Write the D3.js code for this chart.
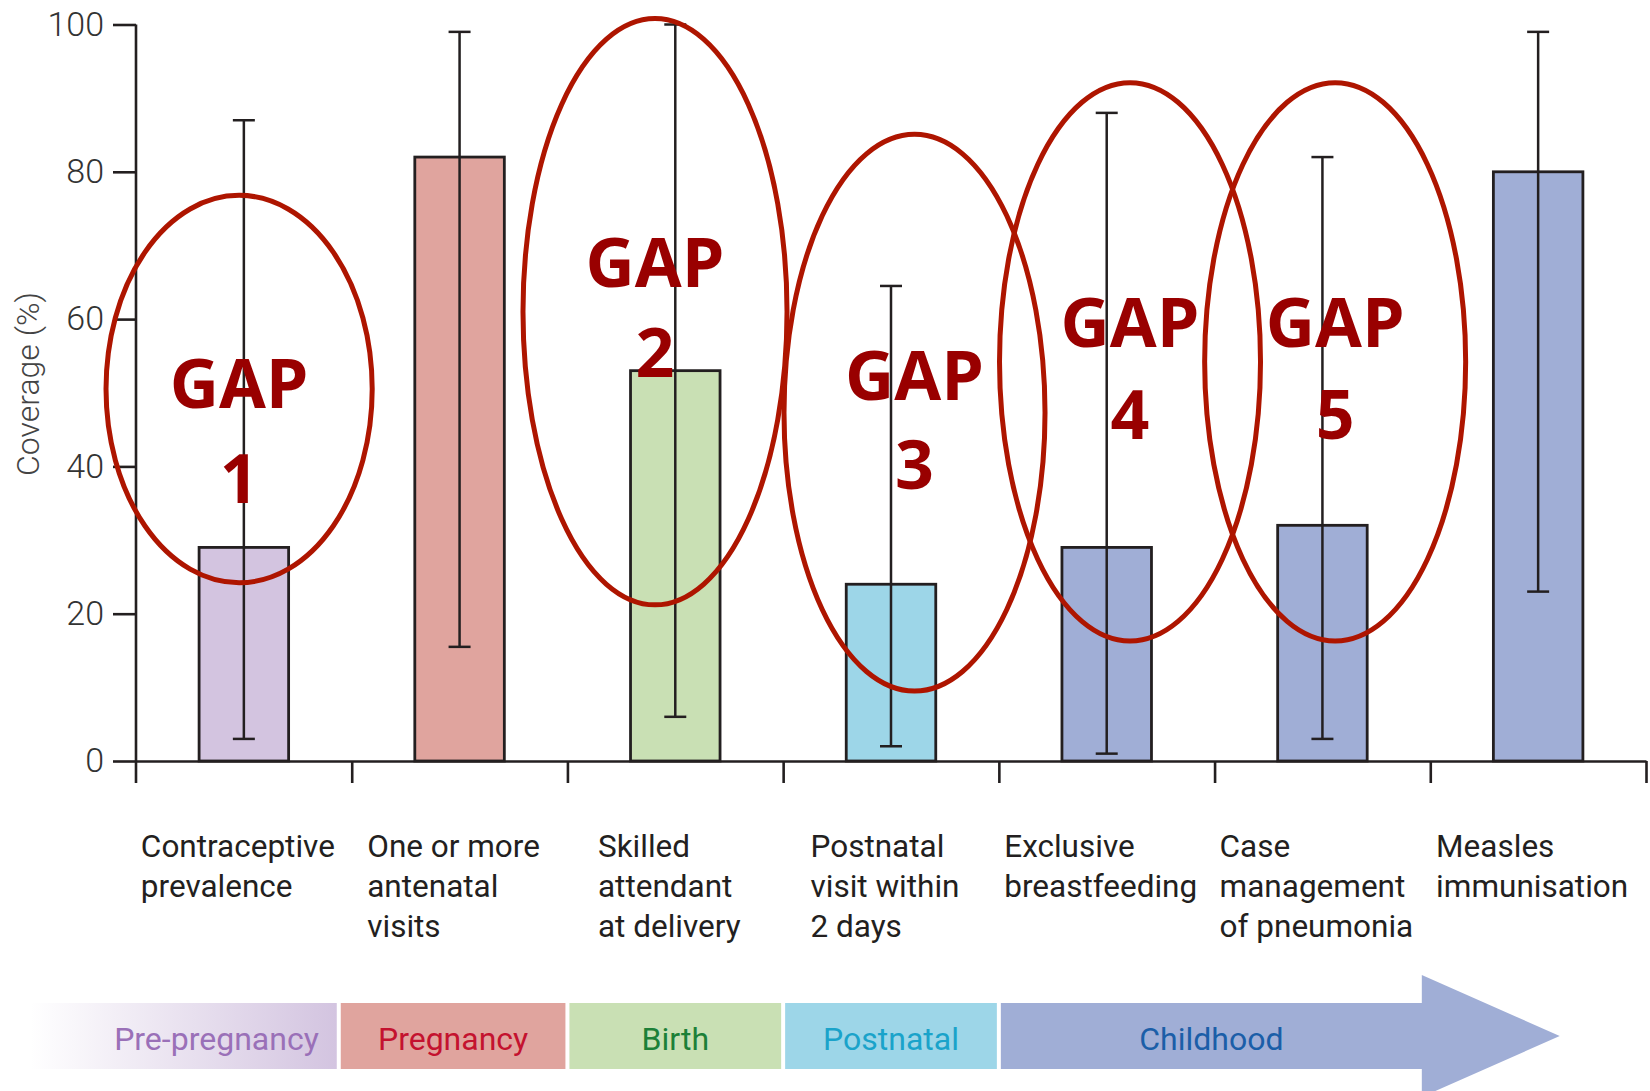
<!DOCTYPE html>
<html>
<head>
<meta charset="utf-8">
<script src="https://cdn.jsdelivr.net/npm/d3@7"></script>
<style>
  body { margin: 0; background: #fff; }
</style>
</head>
<body>
<svg id="chart" width="1650" height="1091"></svg>
<script>
// indicators along the continuum of care
const categories = ['contraceptive', 'antenatal', 'skilled', 'postnatal', 'breastfeeding', 'pneumonia', 'measles'];
const categoryLines = [
  ['Contraceptive', 'prevalence'],
  ['One or more', 'antenatal', 'visits'],
  ['Skilled', 'attendant', 'at delivery'],
  ['Postnatal', 'visit within', '2 days'],
  ['Exclusive', 'breastfeeding'],
  ['Case', 'management', 'of pneumonia'],
  ['Measles', 'immunisation']
];
const coverage = [29, 82, 53, 24, 29, 32, 80];
const rangeLow = [3, 15.5, 6, 2, 1, 3, 23];
const rangeHigh = [87, 99, 100, 64.5, 88, 82, 99];
const barColors = ['#d3c4e0', '#e0a49e', '#c9e0b4', '#9dd6e8', '#a0aed6', '#a0aed6', '#a0aed6'];
const yTicks = [0, 20, 40, 60, 80, 100];

// stages band under the chart (in category units)
const stageNames = ['Pre-pregnancy', 'Pregnancy', 'Birth', 'Postnatal', 'Childhood'];
const stageStart = [-0.5, 0.94, 2, 3, 4];
const stageEnd = [0.94, 2, 3, 4, 5.97];
const stageFill = ['#d3c4e0', '#e0a49e', '#c9e0b4', '#9dd6e8', '#a0aed6'];
const stageText = ['#9a70b8', '#c4122f', '#1c8038', '#1aa3ca', '#1b5ea8'];
const arrowTip = 6.6;

// gap annotations (x in category units, y in coverage %)
const gapNames = ['1', '2', '3', '4', '5'];
const gapX = [0.478, 2.406, 3.609, 4.608, 5.559];
const gapY = [50.5, 61, 47.3, 54.2, 54.2];
const gapRx = [0.617, 0.612, 0.605, 0.605, 0.605];
const gapRy = [26.3, 39.8, 37.8, 37.9, 37.9];
const gapWordY = [47.9, 64.4, 49, 56.2, 56.2];
const gapNumY = [35, 52.1, 36.9, 43.7, 43.7];

const svg = d3.select('#chart');
const ink = '#231f20';
const left = 136, right = 1646;

const x = d3.scaleBand().domain(categories).range([left, right]).padding(0);
const pos = d3.scaleLinear().domain([0, categories.length]).range([left, right]);
const y = d3.scaleLinear().domain([0, 100]).range([761, 24.5]);
const barW = x.bandwidth() * 0.415;

// y axis
const yAxis = svg.append('g')
  .attr('transform', `translate(${left},0)`)
  .call(d3.axisLeft(y).tickValues(yTicks).tickSize(23).tickSizeOuter(0).tickPadding(9));
yAxis.select('.domain').remove();
yAxis.selectAll('line').attr('stroke', ink).attr('stroke-width', 2.6);
yAxis.selectAll('text')
  .attr('font-family', 'Roboto, sans-serif')
  .attr('font-weight', 300)
  .attr('font-size', 34)
  .attr('fill', '#333');
yAxis.append('line')
  .attr('x1', 0).attr('x2', 0)
  .attr('y1', y(100)).attr('y2', y(0) + 22)
  .attr('stroke', ink).attr('stroke-width', 2.6);

// x axis with ticks between categories
const xAxis = svg.append('g')
  .attr('transform', `translate(0,${y(0)})`)
  .call(d3.axisBottom(pos).tickValues(d3.range(1, categories.length + 1)).tickSize(22).tickSizeOuter(0).tickFormat(''));
xAxis.select('.domain').attr('stroke', ink).attr('stroke-width', 2.6);
xAxis.selectAll('line').attr('stroke', ink).attr('stroke-width', 2.6);

svg.append('text')
  .attr('transform', `translate(39,${384}) rotate(-90)`)
  .attr('text-anchor', 'middle')
  .attr('font-family', 'Roboto, sans-serif')
  .attr('font-weight', 300)
  .attr('font-size', 32)
  .attr('fill', '#444')
  .text('Coverage (%)');

// bars
svg.append('g').selectAll('rect')
  .data(categories)
  .join('rect')
  .attr('x', (d) => x(d) + (x.bandwidth() - barW) / 2)
  .attr('y', (d, i) => y(coverage[i]))
  .attr('width', barW)
  .attr('height', (d, i) => y(0) - y(coverage[i]))
  .attr('fill', (d, i) => barColors[i])
  .attr('stroke', ink)
  .attr('stroke-width', 2.8);

// range bars
const err = svg.append('g').attr('stroke', ink).attr('stroke-width', 2.5);
categories.forEach((c, i) => {
  const cx = x(c) + x.bandwidth() / 2;
  err.append('line').attr('x1', cx).attr('x2', cx).attr('y1', y(rangeLow[i])).attr('y2', y(rangeHigh[i]));
  err.append('line').attr('x1', cx - 11).attr('x2', cx + 11).attr('y1', y(rangeLow[i])).attr('y2', y(rangeLow[i]));
  err.append('line').attr('x1', cx - 11).attr('x2', cx + 11).attr('y1', y(rangeHigh[i])).attr('y2', y(rangeHigh[i]));
});

// category labels, left aligned block centred under each bar
const labelG = svg.append('g')
  .attr('font-family', 'Roboto, sans-serif')
  .attr('font-size', 31.5)
  .attr('fill', ink);
categories.forEach((c, i) => {
  const t = labelG.append('text');
  categoryLines[i].forEach((line, k) => {
    t.append('tspan').attr('x', 0).attr('y', 857 + k * 40).text(line);
  });
  let w = 0;
  t.selectAll('tspan').each(function () { w = Math.max(w, this.getComputedTextLength()); });
  t.attr('transform', `translate(${x(c) + x.bandwidth() / 2 - w / 2 - 6},0)`);
});

// stages strip
const defs = svg.append('defs');
const grad = defs.append('linearGradient').attr('id', 'preGrad');
grad.append('stop').attr('offset', '0%').attr('stop-color', stageFill[0]).attr('stop-opacity', 0);
grad.append('stop').attr('offset', '100%').attr('stop-color', stageFill[0]).attr('stop-opacity', 1);

const stripTop = 1003, stripH = 66, headH = 61;
const strip = svg.append('g');
stageNames.forEach((name, i) => {
  const x0 = pos(stageStart[i]) + 2, x1 = pos(stageEnd[i]) - 2;
  const last = i === stageNames.length - 1;
  if (last) {
    const mid = stripTop + stripH / 2;
    const p = d3.path();
    p.moveTo(x0, stripTop);
    p.lineTo(x1, stripTop);
    p.lineTo(x1, mid - headH);
    p.lineTo(pos(arrowTip), mid);
    p.lineTo(x1, mid + headH);
    p.lineTo(x1, stripTop + stripH);
    p.lineTo(x0, stripTop + stripH);
    p.closePath();
    strip.append('path').attr('d', p.toString()).attr('fill', stageFill[i]);
  } else {
    strip.append('rect')
      .attr('x', x0).attr('y', stripTop)
      .attr('width', x1 - x0).attr('height', stripH)
      .attr('fill', i === 0 ? 'url(#preGrad)' : stageFill[i]);
  }
  strip.append('text')
    .attr('x', i === 0 ? x1 - 18 : (x0 + x1) / 2)
    .attr('y', 1050)
    .attr('text-anchor', i === 0 ? 'end' : 'middle')
    .attr('font-family', 'Roboto, sans-serif')
    .attr('font-size', 32)
    .attr('fill', stageText[i])
    .text(name);
});

// gap ellipses
const bandPx = x.bandwidth();
const pxPerPct = y(0) - y(1);
const gaps = svg.append('g');
gapNames.forEach((g, i) => {
  gaps.append('ellipse')
    .attr('cx', pos(gapX[i]))
    .attr('cy', y(gapY[i]))
    .attr('rx', gapRx[i] * bandPx)
    .attr('ry', gapRy[i] * pxPerPct)
    .attr('fill', 'none')
    .attr('stroke', '#ae1500')
    .attr('stroke-width', 5);
  const tg = gaps.append('g')
    .attr('font-family', '"Open Sans", sans-serif')
    .attr('font-weight', 700)
    .attr('font-size', 68)
    .attr('fill', '#990000')
    .attr('text-anchor', 'middle');
  tg.append('text').attr('x', pos(gapX[i])).attr('y', y(gapWordY[i])).text('GAP');
  tg.append('text').attr('x', pos(gapX[i])).attr('y', y(gapNumY[i])).text(g);
});
</script>
</body>
</html>
